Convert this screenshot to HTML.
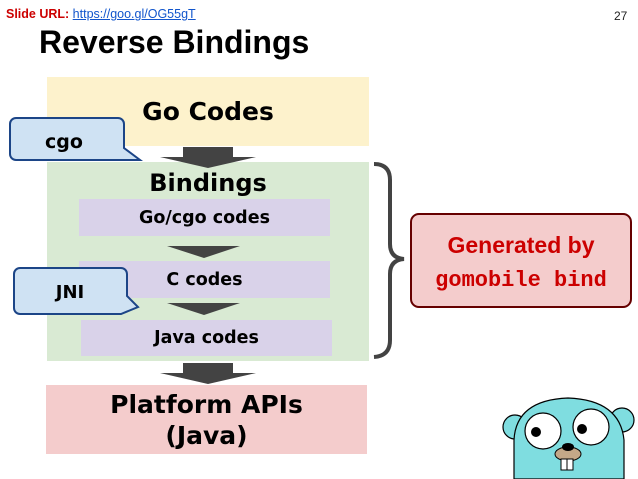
<!DOCTYPE html>
<html><head><meta charset="utf-8"><style>
body{margin:0;width:638px;height:479px;background:#fff;position:relative;overflow:hidden;font-family:"Liberation Sans",sans-serif}
.a{position:absolute}
.c{display:flex;align-items:center;justify-content:center;text-align:center;font-family:"DejaVu Sans",sans-serif;font-weight:bold;color:#000}
</style></head><body>
<div class="a" style="left:6px;top:7px;font-size:12.5px;font-weight:bold;color:#cc0000">Slide URL: <span style="color:#1155cc;font-weight:normal;text-decoration:underline">https://goo.gl/OG55gT</span></div>
<div class="a" style="left:614px;top:9px;font-size:12px;color:#222">27</div>
<div class="a" style="left:39px;top:24px;font-size:32px;font-weight:bold">Reverse Bindings</div>

<div class="a c" style="left:47px;top:77px;width:322px;height:69px;background:#fdf2cc;font-size:25px">Go Codes</div>
<div class="a" style="left:47px;top:162px;width:322px;height:199px;background:#d9ead3"></div>
<div class="a c" style="left:47px;top:166px;width:322px;height:34px;font-size:24px">Bindings</div>
<div class="a c" style="left:79px;top:199px;width:251px;height:37px;background:#d9d2e9;font-size:17.5px">Go/cgo codes</div>
<div class="a c" style="left:79px;top:261px;width:251px;height:37px;background:#d9d2e9;font-size:17.5px">C codes</div>
<div class="a c" style="left:81px;top:320px;width:251px;height:36px;background:#d9d2e9;font-size:17.5px">Java codes</div>
<div class="a c" style="left:46px;top:385px;width:321px;height:69px;background:#f4cccc;font-size:25px;line-height:31px">Platform APIs<br>(Java)</div>

<svg class="a" style="left:0;top:0" width="638" height="479">
<g fill="#434343">
<rect x="183" y="147" width="50" height="11"/><polygon points="160,157 256,157 208,168"/>
<polygon points="167,246 240,246 204,258"/>
<polygon points="167,303 240,303 204,315"/>
<rect x="183" y="363" width="50" height="11"/><polygon points="160,373 256,373 208,384"/>
</g>
<path d="M10,124 a6,6 0 0 1 6,-6 H118 a6,6 0 0 1 6,6 V148 L140,160 L118,160 H16 a6,6 0 0 1 -6,-6 Z" fill="#cfe2f3" stroke="#1c4587" stroke-width="2"/>
<text x="64" y="148" font-family="DejaVu Sans" font-weight="bold" font-size="19" text-anchor="middle">cgo</text>
<path d="M14,274 a6,6 0 0 1 6,-6 H121 a6,6 0 0 1 6,6 V296 L138,307 L121,314 H20 a6,6 0 0 1 -6,-6 Z" fill="#cfe2f3" stroke="#1c4587" stroke-width="2"/>
<text x="70" y="298" font-family="DejaVu Sans" font-weight="bold" font-size="18" text-anchor="middle">JNI</text>
<path d="M374,164 Q390,164 390,180 V244 Q390,258 404,259 Q390,260 390,274 V340 Q390,356 374,357" fill="none" stroke="#434343" stroke-width="4"/>
<rect x="411" y="214" width="220" height="93" rx="8" fill="#f4cccc" stroke="#660000" stroke-width="2"/>
<text x="521" y="253" font-family="Liberation Sans" font-weight="bold" font-size="23" fill="#cc0000" text-anchor="middle">Generated by</text>
<text x="521" y="286" font-family="Liberation Mono" font-weight="bold" font-size="22" fill="#cc0000" text-anchor="middle">gomobile bind</text>
<!-- gopher -->
<g stroke="#000" stroke-width="1.2">
<circle cx="515" cy="427" r="12" fill="#7fdde0"/>
<circle cx="622" cy="420" r="12" fill="#7fdde0"/>
<path d="M514,479 V440 Q516,400 568,398 Q620,400 624,440 V479 Z" fill="#7fdde0"/>
<circle cx="543" cy="431" r="18" fill="#fff"/>
<circle cx="591" cy="427" r="18" fill="#fff"/>
</g>
<circle cx="536" cy="432" r="5" fill="#000"/>
<circle cx="582" cy="429" r="5" fill="#000"/>
<ellipse cx="568" cy="454" rx="13" ry="7" fill="#c4a888" stroke="#000"/>
<ellipse cx="568" cy="447" rx="6" ry="4" fill="#000"/>
<rect x="561" y="459" width="6" height="11" fill="#fff" stroke="#000"/>
<rect x="567" y="459" width="6" height="11" fill="#fff" stroke="#000"/>
</svg>
</body></html>
